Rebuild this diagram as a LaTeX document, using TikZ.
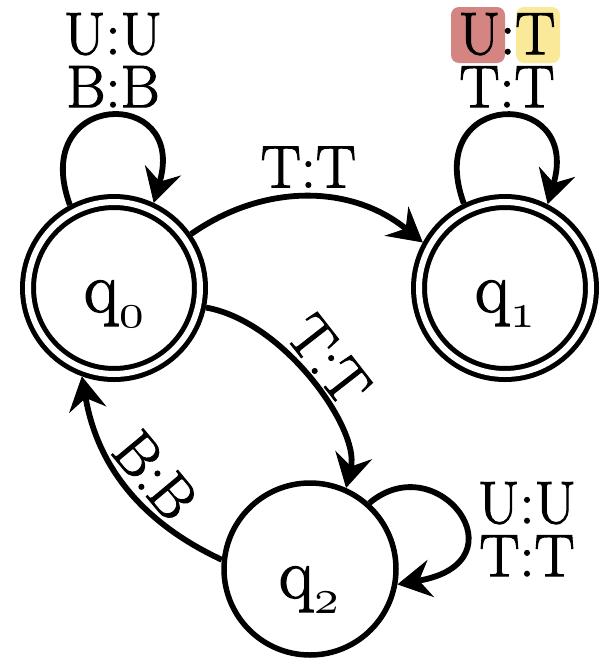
\documentclass[tikz,border=0pt]{standalone}
\usepackage{graphicx}
\usepackage{fontspec}
\usetikzlibrary{arrows.meta}
\definecolor{hlred}{RGB}{212,132,129}
\definecolor{hlyellow}{RGB}{250,233,152}
\newfontfamily\heavyrm{Latin Modern Roman}[FakeBold=1.8]
\newcommand{\osn}[1]{{\fontsize{10}{10}\usefont{OML}{lmm}{m}{it}#1}}
\newcommand{\stname}[1]{q\kern1pt\raisebox{-15pt}{\scalebox{4.9}{\osn{#1}}}}
\begin{document}
\begin{tikzpicture}[x=1pt,y=1pt,
  acc/.style={circle, draw, line width=5pt, double, double distance=6pt, minimum size=172pt, inner sep=0pt, outer sep=8pt},
  plain/.style={circle, draw, line width=5.5pt, minimum size=172pt, inner sep=0pt, outer sep=2.75pt},
  stxt/.style={font=\heavyrm\fontsize{72}{72}\selectfont, inner sep=0pt, anchor=base},
  lbl/.style={font=\heavyrm\fontsize{60}{53}\selectfont, inner sep=0pt},
  arr/.style={line width=5.8pt, -{Stealth[length=34pt,width=38pt,inset=12pt,line width=1pt]}},
  hl/.style={rounded corners=8pt, inner sep=0pt, minimum height=56pt}]
\useasboundingbox (0,0) rectangle (602,-659);
\node[acc] (q0) at (114,-288) {};
\node[acc] (q1) at (505,-288) {};
\node[plain] (q2) at (310,-569) {};
\node[stxt] (t0) at (114,-312) {\stname{0}};
\node[stxt] (t1) at (505,-312) {\stname{1}};
\node[stxt] (t2) at (309,-598) {\stname{2}};
\node[hl, fill=hlred, minimum width=54pt] (hu) at (478,-35) {};
\node[hl, fill=hlyellow, minimum width=44pt] (ht) at (538,-35) {};
\node[lbl, align=center, anchor=north] (l0) at (113,-13) {U:U\\B:B};
\node[lbl, align=center, anchor=north] (l1) at (507,-13) {U:T\\T:T};
\node[lbl, align=center, anchor=north] (l2) at (527,-482) {U:U\\T:T};
\draw[arr] (q0.118) .. controls +(110:122) and +(74:122) .. (q0.65);
\draw[arr] (q1.116) .. controls +(110:122) and +(74:122) .. (q1.63);
\draw[arr] (q0.35) to[bend left=37] node[lbl, above=7pt] (e01) {T:T} (q1.151);
\draw[arr] (q0.-12) .. controls +(-10:80) and +(77:60) .. node[lbl, sloped, above=4pt, pos=0.48] (e02) {T:T} (q2.66);
\draw[arr] (q2.174) to[out=155, in=-80] node[lbl, sloped, above=6pt, pos=0.46] (e20) {B:B} (q0.-110);
\draw[arr] (q2.48) .. controls +(40:90) and +(10:130) .. (q2.-10);
\end{tikzpicture}
\end{document}
